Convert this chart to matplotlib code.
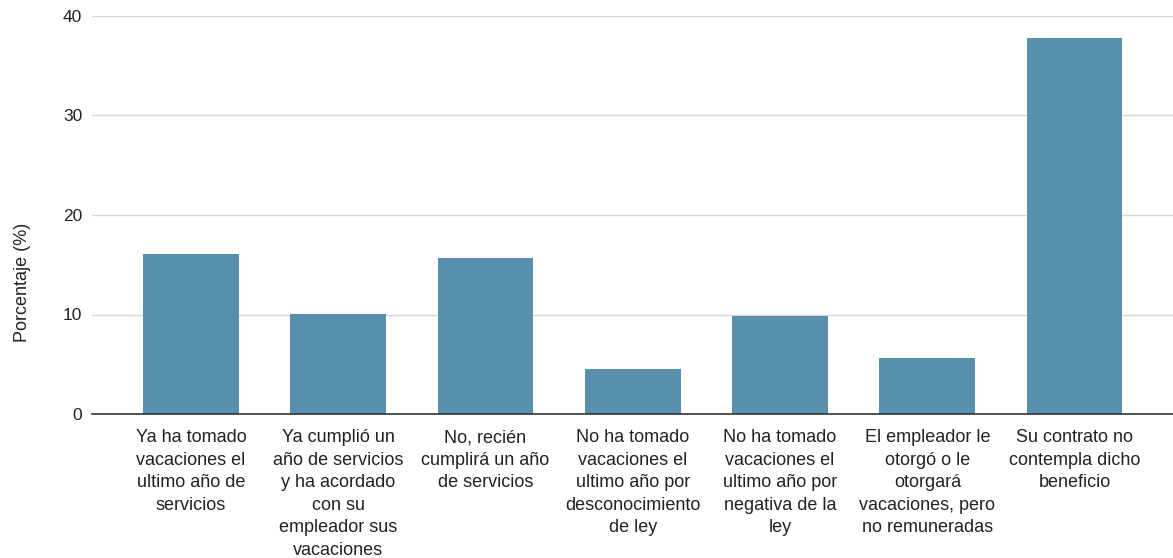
import matplotlib
matplotlib.use("Agg")
import matplotlib.pyplot as plt
import numpy as np

# categories and values (percent)
categories = [
    "Ya ha tomado\nvacaciones el\nultimo año de\nservicios",
    "Ya cumplió un\naño de servicios\ny ha acordado\ncon su\nempleador sus\nvacaciones",
    "No, recién\ncumplirá un año\nde servicios",
    "No ha tomado\nvacaciones el\nultimo año por\ndesconocimiento\nde ley",
    "No ha tomado\nvacaciones el\nultimo año por\nnegativa de la\nley",
    "El empleador le\notorgó o le\notorgará\nvacaciones, pero\nno remuneradas",
    "Su contrato no\ncontempla dicho\nbeneficio",
]
values = [16.1, 10.05, 15.7, 4.5, 9.85, 5.6, 37.75]
yticks = [0, 10, 20, 30, 40]

plt.rcParams["font.family"] = ["Liberation Sans", "DejaVu Sans"]

fig = plt.figure(figsize=(11.73, 5.58), dpi=100)
ax = fig.add_axes([92 / 1173, 1 - 414 / 558, 1 - 92 / 1173, (414 - 16) / 558])

x = np.arange(len(categories))
ax.bar(x, values, width=0.65, color="#588fad", zorder=3)

ax.set_xlim(-0.672, 6.668)
ax.set_ylim(0, 40)
ax.set_yticks(yticks)
ax.set_xticks(x)
ax.set_xticklabels(categories, fontsize=13, linespacing=1.42, va="top")
ax.tick_params(axis="x", length=0, pad=11, colors="#222222")
ax.tick_params(axis="y", length=0, pad=7, labelsize=12.5, colors="#222222")

ax.grid(axis="y", color="#d6d6d6", linewidth=1, zorder=0)
for s in ["top", "right", "left"]:
    ax.spines[s].set_visible(False)
ax.spines["bottom"].set_color("#333333")
ax.spines["bottom"].set_linewidth(1.2)
ax.spines["bottom"].set_zorder(4)

ax.set_ylabel("Porcentaje (%)", fontsize=13, color="#222222")
ax.yaxis.set_label_coords(-0.056, 0.33)

plt.savefig("out.png", dpi=100)
